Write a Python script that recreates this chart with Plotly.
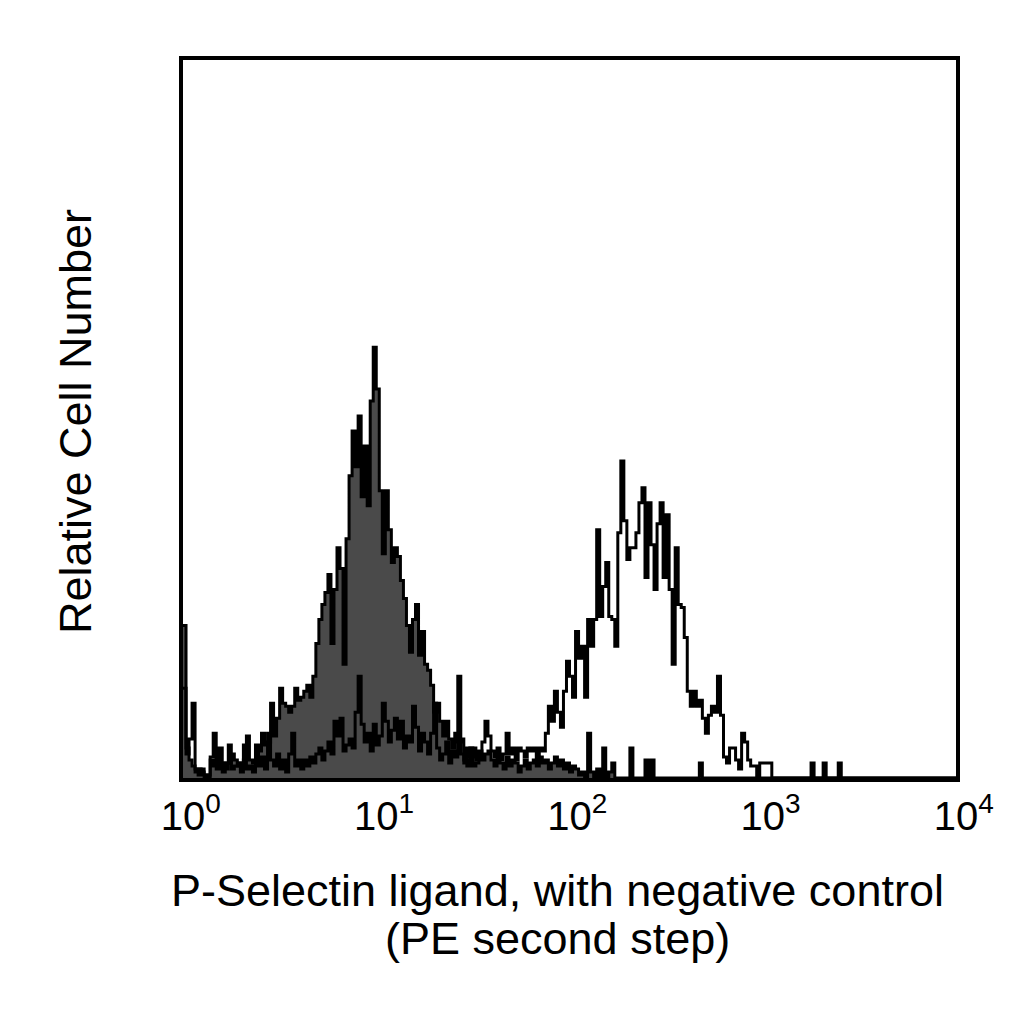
import numpy as np
import plotly.graph_objects as go

# 256-channel log histogram, 4 decades (10^0 .. 10^4)
N_CHANNELS = 256
DECADES = 4

# negative control (filled grey), counts per channel
neg_counts = [
    51, 10, 6, 4, 2, 3, 2, 0, 1, 6, 4, 9, 4, 5, 3, 5,
    8, 6, 4, 5, 6, 14, 6, 5, 6, 9, 15, 11, 12, 25, 14, 20,
    30, 25, 24, 22, 24, 30, 26, 27, 29, 31, 27, 34, 45, 53, 58, 62,
    68, 45, 63, 77, 70, 38, 80, 101, 116, 104, 121, 94, 111, 91, 126, 144,
    130, 96, 75, 96, 83, 72, 77, 74, 66, 60, 51, 42, 53, 58, 41, 49,
    38, 36, 31, 22, 25, 19, 14, 19, 13, 10, 15, 12, 13, 5, 10, 7,
    10, 6, 9, 6, 8, 9, 6, 4, 7, 5, 3, 7, 4, 6, 5, 2,
    4, 6, 3, 5, 6, 4, 7, 5, 6, 3, 5, 7, 4, 6, 3, 5,
    2, 4, 3, 1, 2, 0, 15, 2, 0, 3, 0, 10, 0, 2, 5, 0,
    0, 0, 0, 0, 10, 0, 0, 0, 0, 6, 0, 6, 0, 0, 0, 0,
    0, 0, 0, 0, 0, 0, 0, 0, 0, 0, 0, 5, 0, 0, 0, 0,
    0, 0, 0, 0, 0, 0, 0, 0, 0, 0, 0, 0, 0, 0, 0, 0,
    0, 0, 0, 0, 0, 0, 0, 0, 0, 0, 0, 0, 0, 0, 0, 0,
    0, 0, 0, 0, 0, 0, 0, 0, 0, 0, 0, 0, 0, 0, 0, 0,
    0, 0, 0, 0, 0, 0, 0, 0, 0, 0, 0, 0, 0, 0, 0, 0,
    0, 0, 0, 0, 0, 0, 0, 0, 0, 0, 0, 0, 0, 0, 0, 0,
]

# P-Selectin ligand stained (open outline), counts per channel
pos_counts = [
    30, 8, 13, 25, 3, 1, 3, 1, 0, 7, 15, 3, 10, 2, 5, 11,
    3, 4, 5, 2, 11, 3, 4, 2, 11, 4, 7, 3, 15, 6, 4, 8,
    3, 6, 2, 8, 15, 4, 6, 3, 6, 4, 7, 5, 8, 10, 6, 9,
    12, 8, 19, 14, 20, 9, 11, 13, 10, 22, 34, 18, 12, 15, 9, 18,
    11, 14, 25, 19, 12, 16, 20, 13, 19, 10, 14, 12, 24, 17, 9, 15,
    12, 8, 15, 25, 10, 6, 8, 12, 5, 9, 7, 34, 8, 6, 4, 10,
    4, 5, 7, 12, 19, 14, 9, 7, 10, 6, 8, 15, 8, 10, 6, 10,
    9, 7, 10, 9, 10, 6, 10, 9, 15, 24, 19, 29, 22, 17, 29, 39,
    34, 27, 49, 40, 44, 27, 53, 44, 53, 83, 54, 64, 72, 54, 53, 44,
    82, 106, 86, 73, 77, 77, 82, 92, 97, 67, 92, 78, 63, 85, 92, 67,
    88, 63, 38, 77, 58, 57, 47, 29, 24, 29, 24, 26, 20, 15, 21, 24,
    22, 34, 21, 7, 5, 10, 10, 6, 3, 15, 12, 6, 4, 4, 0, 5,
    5, 5, 5, 0, 0, 0, 0, 0, 0, 0, 0, 0, 0, 0, 0, 0,
    5, 0, 0, 0, 5, 0, 0, 0, 0, 5, 0, 0, 0, 0, 0, 0,
    0, 0, 0, 0, 0, 0, 0, 0, 0, 0, 0, 0, 0, 0, 0, 0,
    0, 0, 0, 0, 0, 0, 0, 0, 0, 0, 0, 0, 0, 0, 0, 0,
]

tick_vals = [1, 10, 100, 1000, 10000]
tick_exponents = ['0', '1', '2', '3', '4']
# blank superscript on the left keeps the "10" centred on its tick
tick_text = ['<sup>&nbsp;&nbsp;</sup>10<sup>%s</sup>' % e for e in tick_exponents]

x_title_line1 = 'P-Selectin ligand, with negative control'
x_title_line2 = '(PE second step)'
y_title = 'Relative Cell Number'

# channel edges on the log scale
edges = 10 ** (np.arange(N_CHANNELS + 1) * DECADES / N_CHANNELS)


def step_y(counts):
    return list(counts) + [counts[-1]]


fig = go.Figure()

fig.add_trace(go.Scatter(
    x=edges, y=step_y(neg_counts),
    mode='lines', line=dict(color='black', width=3, shape='hv'),
    fill='tozeroy', fillcolor='#4a4a4a',
    showlegend=False,
))

fig.add_trace(go.Scatter(
    x=edges, y=step_y(pos_counts),
    mode='lines', line=dict(color='black', width=3, shape='hv'),
    showlegend=False,
))

font = 'Liberation Sans, Arial, sans-serif'
title_font = dict(size=45, family=font, color='black')

fig.update_layout(
    width=1024, height=1024,
    margin=dict(l=175, r=76, t=52, b=254),
    paper_bgcolor='white', plot_bgcolor='white',
    font=dict(family=font, color='black'),
    xaxis=dict(
        type='log', range=[0, DECADES],
        tickvals=tick_vals, ticktext=tick_text,
        tickfont=dict(size=40, family=font, color='black'),
        ticks='', showgrid=False, zeroline=False,
        showline=True, linecolor='black', linewidth=4, mirror=True,
    ),
    yaxis=dict(
        range=[0, 240], showticklabels=False, ticks='',
        showgrid=False, zeroline=False,
        showline=True, linecolor='black', linewidth=4, mirror=True,
    ),
    annotations=[
        dict(text=x_title_line1, xref='paper', yref='paper', x=0.484, y=-0.157,
             xanchor='center', yanchor='middle', showarrow=False, font=title_font),
        dict(text=x_title_line2, xref='paper', yref='paper', x=0.484, y=-0.224,
             xanchor='center', yanchor='middle', showarrow=False, font=title_font),
        dict(text=y_title, xref='paper', yref='paper', x=-0.139, y=0.4965,
             xanchor='center', yanchor='middle', showarrow=False, textangle=-90,
             font=title_font),
    ],
)

fig.write_html('out.html')
